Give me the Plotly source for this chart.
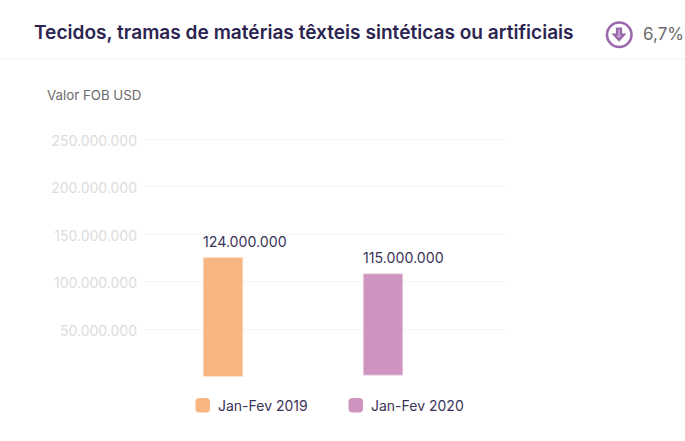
import plotly.graph_objects as go

W, H = 685, 441
series_names = ["Jan-Fev 2019", "Jan-Fev 2020"]
bar_heights = [125000000, 106500000]
bar_bases = [0, 1500000]
bar_labels = ["124.000.000", "115.000.000"]
colors = ["#f8b57f", "#cf93bf"]
edge_colors = ["#fbd3b3", "#e6c5dc"]
tick_values = [0, 50000000, 100000000, 150000000, 200000000, 250000000]
tick_labels = ["", "50.000.000", "100.000.000", "150.000.000", "200.000.000", "250.000.000"]

title = "Tecidos, tramas de matérias têxteis sintéticas ou artificiais"
change = "6,7%"
unit = "Valor FOB USD"

DARK = "#2b2450"
GREY = "#6b6b6b"
PURPLE = "#9a68ad"
FONT = "Inter"

def px(x): return x / W
def py(y): return 1 - y / H

fig = go.Figure()
for i, name in enumerate(series_names):
    fig.add_trace(go.Bar(x=[i], y=[bar_heights[i]], base=[bar_bases[i]], name=name, width=0.245,
                         marker=dict(color=colors[i], line=dict(color=edge_colors[i], width=1)),
                         showlegend=False, hoverinfo="skip"))

annotations = []
for i, label in enumerate(bar_labels):
    annotations.append(dict(x=i, y=bar_heights[i] + bar_bases[i], xref="x", yref="y", text=label,
                            showarrow=False, xanchor="left", yanchor="bottom", xshift=-22, yshift=6,
                            font=dict(family=FONT, size=14.2, color="#3a3358")))

def note(x, y, text, size, color, weight=400, anchor="left"):
    annotations.append(dict(x=px(x), y=py(y), xref="paper", yref="paper", text=text, showarrow=False,
                            xanchor=anchor, yanchor="middle", xshift=0, yshift=0,
                            font=dict(family=FONT, size=size, color=color, weight=weight)))

note(32, 32, title, 19.1, DARK, 600)
note(641, 34.5, change, 17, GREY)
note(45, 95, unit, 13.3, GREY)
note(216, 405, series_names[0], 14, "#3a3358")
note(369, 405, series_names[1], 14, "#3a3358")

def rounded(x0, y0, x1, y1, r):
    c = [(x0 + r, y0), (x1 - r, y0), (x1, y0), (x1, y0 + r), (x1, y1 - r), (x1, y1),
         (x1 - r, y1), (x0 + r, y1), (x0, y1), (x0, y1 - r), (x0, y0 + r), (x0, y0), (x0 + r, y0)]
    p = lambda q: f"{px(q[0]):.5f},{py(q[1]):.5f}"
    return (f"M{p(c[0])} L{p(c[1])} Q{p(c[2])} {p(c[3])} L{p(c[4])} Q{p(c[5])} {p(c[6])} "
            f"L{p(c[7])} Q{p(c[8])} {p(c[9])} L{p(c[10])} Q{p(c[11])} {p(c[12])} Z")

shapes = [
    dict(type="line", xref="paper", yref="paper", x0=0, x1=1, y0=py(59), y1=py(59),
         line=dict(color="#f5f5f5", width=1.5)),
    dict(type="path", xref="paper", yref="paper", path=rounded(195.5, 398, 210, 412.5, 4),
         fillcolor=colors[0], line=dict(width=0)),
    dict(type="path", xref="paper", yref="paper", path=rounded(348.5, 398, 363, 412.5, 4),
         fillcolor=colors[1], line=dict(width=0)),
    dict(type="circle", xref="paper", yref="paper", x0=px(607), x1=px(631.5), y0=py(47), y1=py(22.5),
         fillcolor="white", line=dict(color=PURPLE, width=2.6)),
    dict(type="path", xref="paper", yref="paper",
         path=(f"M{px(617)},{py(28.5)} L{px(621)},{py(28.5)} L{px(621)},{py(34.5)} L{px(624)},{py(34.5)} "
               f"L{px(619)},{py(40)} L{px(614)},{py(34.5)} L{px(617)},{py(34.5)} Z"),
         fillcolor="#c6a6d1", line=dict(color=PURPLE, width=2.2)),
]

fig.update_layout(
    width=W, height=H, margin=dict(l=0, r=0, t=0, b=0, autoexpand=False),
    paper_bgcolor="white", plot_bgcolor="white", showlegend=False,
    barmode="overlay", annotations=annotations, shapes=shapes,
    xaxis=dict(domain=[px(144), px(508)], range=[-0.494, 1.781], showticklabels=False,
               showgrid=False, zeroline=False, showline=False, fixedrange=True),
    yaxis=dict(domain=[py(376.5), py(134)], range=[0, 255260000], tickmode="array",
               tickvals=tick_values, ticktext=tick_labels, showgrid=True, gridcolor="#f6f6f6",
               gridwidth=1, zeroline=False, showline=False, ticks="", ticklabelstandoff=6,
               ticklabelshift=2,
               tickfont=dict(family=FONT, size=14, color="#dcdcdc"), fixedrange=True),
)
fig.write_html("out.html", config=dict(displayModeBar=False),
               post_script="document.body.style.margin='0';")
